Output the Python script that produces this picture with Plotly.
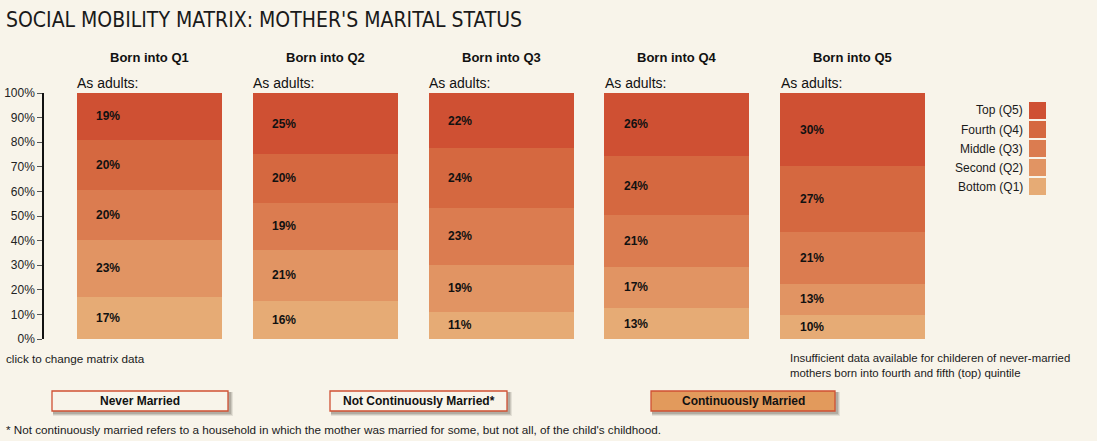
import plotly.graph_objects as go

# ── data ─────────────────────────────────────────────
born_into = ["Born into Q1", "Born into Q2", "Born into Q3", "Born into Q4", "Born into Q5"]
adult_quintiles = ["Bottom (Q1)", "Second (Q2)", "Middle (Q3)", "Fourth (Q4)", "Top (Q5)"]

# share of adults (%) in each quintile, per birth quintile (Continuously Married)
bottom_q1 = [17.2, 15.6, 11.1, 12.6, 9.8]
second_q2 = [23.0, 20.6, 19.0, 16.7, 12.6]
middle_q3 = [20.4, 19.1, 23.2, 21.1, 21.1]
fourth_q4 = [20.3, 19.9, 24.3, 24.0, 26.8]
top_q5 = [19.1, 24.8, 22.4, 25.6, 29.7]

series = [bottom_q1, second_q2, middle_q3, fourth_q4, top_q5]
colors = ["#E6AB75", "#E19463", "#DB7C50", "#D56840", "#CF5033"]

y_ticks = list(range(0, 101, 10))
y_tick_labels = ["%d%%" % t for t in y_ticks]

buttons = ["Never Married", "Not Continuously Married*", "Continuously Married"]
active_button = "Continuously Married"

BG = "#F8F4EA"
FONT = "Liberation Sans, Arial, sans-serif"
W, H = 1097, 441


def px(x):
    return x / W


def py(y):
    return 1 - y / H


def note(x, y, text, size=11.7, anchor="left", color="#1a1a1a", **kw):
    return dict(x=px(x), y=py(y), xref="paper", yref="paper",
                xanchor=anchor, yanchor="middle", text=text, showarrow=False,
                font=dict(family=kw.pop("family", FONT), size=size, color=color), **kw)


fig = go.Figure()

for name, vals, col in zip(adult_quintiles, series, colors):
    fig.add_trace(go.Bar(
        x=born_into, y=vals, name=name,
        marker=dict(color=col, line=dict(width=0)),
        hoverinfo="x+y+name",
    ))

annotations = []

# percentage labels inside each segment
for i, cat in enumerate(born_into):
    base = 0
    for vals in series:
        v = vals[i]
        annotations.append(dict(
            x=cat, y=base + v / 2, xref="x", yref="y",
            text="<b>%d%%</b>" % round(v), showarrow=False,
            xanchor="left", yanchor="middle", xshift=-55,
            font=dict(family=FONT, size=12, color="#111"),
        ))
        base += v
    # column headers
    annotations.append(dict(
        x=cat, y=py(58), xref="x", yref="paper", text="<b>%s</b>" % cat,
        showarrow=False, xanchor="center", yanchor="middle",
        font=dict(family=FONT, size=13, color="#111"),
    ))
    annotations.append(dict(
        x=cat, y=py(83), xref="x", yref="paper", text="As adults:",
        showarrow=False, xanchor="left", yanchor="middle", xshift=-74,
        font=dict(family=FONT, size=14, color="#111"),
    ))

# title
annotations.append(note(4, 20, "SOCIAL MOBILITY MATRIX: MOTHER'S MARITAL STATUS", size=21,
                        color="#1a1a1a", family="DejaVu Sans Condensed, Liberation Sans Narrow, sans-serif"))

# custom legend (labels right aligned, swatch on the right)
shapes = []
for k, (name, col) in enumerate(zip(adult_quintiles[::-1], colors[::-1])):
    y0 = 102 + k * 19
    shapes.append(dict(type="rect", xref="paper", yref="paper",
                       x0=px(1029), x1=px(1046), y0=py(y0), y1=py(y0 + 17),
                       fillcolor=col, line=dict(width=0)))
    annotations.append(note(1025, y0 + 8.5, name, size=12, anchor="right"))

# buttons
btn_x = [(52, 228), (330, 507), (651, 835)]
for label, (x0, x1) in zip(buttons, btn_x):
    on = label == active_button
    for d, a in [(5, 0.10), (4, 0.14), (3, 0.18)]:
        shapes.append(dict(type="rect", xref="paper", yref="paper",
                           x0=px(x0 + 1), x1=px(x1 + d), y0=py(392), y1=py(411 + d),
                           fillcolor="rgba(60,50,40,%.2f)" % a, line=dict(width=0)))
    shapes.append(dict(type="rect", xref="paper", yref="paper",
                       x0=px(x0), x1=px(x1), y0=py(391), y1=py(411),
                       fillcolor="#E29A5C" if on else BG,
                       line=dict(color="#CF5033", width=1.3)))
    annotations.append(note((x0 + x1) / 2, 401, "<b>%s</b>" % label, size=12,
                            anchor="center", color="#111"))

# notes
annotations += [
    note(4, 358, "click to change matrix data"),
    note(788, 365, "Insufficient data available for childeren of never-married<br>"
                   "mothers born into fourth and fifth (top) quintile", size=11.4, align="left"),
    note(4, 429, "* Not continuously married refers to a household in which the mother "
                 "was married for some, but not all, of the child's childhood."),
]

fig.update_layout(
    width=W, height=H, autosize=False,
    margin=dict(l=0, r=0, t=0, b=0),
    barmode="stack", bargap=0.175,
    showlegend=False,
    paper_bgcolor=BG, plot_bgcolor=BG,
    font=dict(family=FONT, size=12, color="#222"),
    xaxis=dict(domain=[px(61.6), px(940.4)], range=[-0.5, 4.5], visible=False),
    yaxis=dict(
        domain=[1 - 339 / H, 1 - 93 / H], range=[0, 100],
        anchor="free", position=px(43), automargin=False,
        tickmode="array", tickvals=y_ticks, ticktext=y_tick_labels,
        ticks="outside", ticklen=5, tickcolor="#555",
        showline=True, linecolor="#111", linewidth=1.5,
        showgrid=False, zeroline=False,
        tickfont=dict(family=FONT, size=12, color="#222"),
    ),
    shapes=shapes,
    annotations=annotations,
)

fig.write_html("out.html", config={"displayModeBar": False},
               post_script="document.body.style.margin='0';")
